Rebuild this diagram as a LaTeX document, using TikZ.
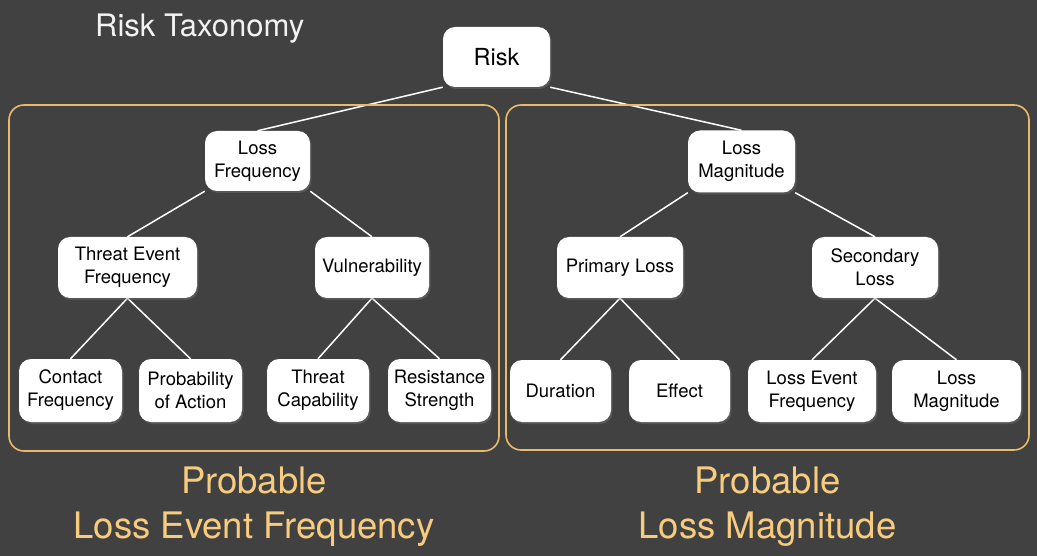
\documentclass[tikz,border=0pt]{standalone}
\usepackage{fontspec}
\setmainfont{TeX Gyre Heros}
\usepackage{xcolor}
\usetikzlibrary{shadows}
\definecolor{bgGray}{HTML}{414141}
\definecolor{frameGold}{HTML}{E9BA6C}
\definecolor{textGold}{HTML}{F8CC7E}
\definecolor{titleGray}{HTML}{F2F2F2}
\pgfdeclarelayer{back}
\pgfdeclarelayer{edges}
\pgfsetlayers{back,edges,main}

\begin{document}
\begin{tikzpicture}[x=1pt,y=-1pt,
    box/.style={fill=white,rounded corners=12pt,align=center,inner sep=2pt,minimum height=61pt,
        font=\fontsize{18.5}{23}\selectfont,
        drop shadow={shadow xshift=1.5pt,shadow yshift=-2pt,opacity=0.35}},
    link/.style={white,line width=1.5pt},
    frame/.style={frameGold,line width=1.6pt,rounded corners=15pt},
    biglabel/.style={textGold,anchor=base,inner sep=0pt,font=\fontsize{36.5}{45}\selectfont}]
        % Background
            \useasboundingbox (0,0) rectangle (1037,556);
            \begin{pgfonlayer}{back}
                \fill[bgGray] (0,0) rectangle (1037,556);
            \end{pgfonlayer}
        % Title
            \node[anchor=base west,inner sep=0pt,text=titleGray,font=\fontsize{31}{36}\selectfont] (title) at (95,37) {Risk Taxonomy};
        % Frames
            \draw[frame] (9,105) rectangle (499,451); % Loss Event Frequency
            \draw[frame] (506,105) rectangle (1029,450); % Loss Magnitude
        % Risk
            \node[box,minimum width=107pt,minimum height=60pt,font=\fontsize{23.5}{28}\selectfont] (risk) at (496.5,57) {Risk};
        % Left tree
            \node[box,minimum width=105pt,minimum height=60pt] (lossfreq) at (257.5,161) {Loss\\Frequency};
            \node[box,minimum width=139pt] (threatfreq) at (127.5,267.5) {Threat Event\\Frequency};
            \node[box,minimum width=114pt] (vuln) at (372,267.5) {Vulnerability};
            \node[box,minimum width=103pt,minimum height=63pt] (contact) at (70.5,390.5) {Contact\\Frequency};
            \node[box,minimum width=103pt,minimum height=63pt] (action) at (190.5,390.5) {Probability\\of Action};
            \node[box,minimum width=102pt,minimum height=63pt] (capab) at (318,390.5) {Threat\\Capability};
            \node[box,minimum width=103pt,minimum height=63pt] (resist) at (439.5,390.5) {Resistance\\Strength};
        % Right tree
            \node[box,minimum width=107pt,minimum height=62pt] (lossmag) at (741.5,161.5) {Loss\\Magnitude};
            \node[box,minimum width=126pt] (primary) at (620,267.5) {Primary Loss};
            \node[box,minimum width=126pt] (secondary) at (875,267.5) {Secondary\\Loss};
            \node[box,minimum width=101pt,minimum height=62pt] (duration) at (560.5,391) {Duration};
            \node[box,minimum width=101pt,minimum height=62pt] (effect) at (679.5,391) {Effect};
            \node[box,minimum width=128pt,minimum height=62pt] (lef) at (812,391) {Loss Event\\Frequency};
            \node[box,minimum width=129pt,minimum height=62pt] (secmag) at (956.5,391) {Loss\\Magnitude};
        % Links
            \begin{pgfonlayer}{edges}
                \draw[link] (risk.south west) -- (lossfreq.north);
                \draw[link] (risk.south east) -- (lossmag.north);
                \draw[link] (lossfreq.south west) -- (threatfreq.north);
                \draw[link] (lossfreq.south east) -- (vuln.north);
                \draw[link] (threatfreq.south) -- (contact.north);
                \draw[link] (threatfreq.south) -- (action.north);
                \draw[link] (vuln.south) -- (capab.north);
                \draw[link] (vuln.south) -- (resist.north);
                \draw[link] (lossmag.south west) -- (primary.north);
                \draw[link] (lossmag.south east) -- (secondary.north);
                \draw[link] (primary.south) -- (duration.north);
                \draw[link] (primary.south) -- (effect.north);
                \draw[link] (secondary.south) -- (lef.north);
                \draw[link] (secondary.south) -- (secmag.north);
            \end{pgfonlayer}
        % Labels
            \node[biglabel] (plef) at (254,493) {Probable};
            \node[biglabel] (plefb) at (254,538) {Loss Event Frequency};
            \node[biglabel] (plm) at (767.5,493) {Probable};
            \node[biglabel] (plmb) at (767.5,538) {Loss Magnitude};
\end{tikzpicture}
\end{document}
